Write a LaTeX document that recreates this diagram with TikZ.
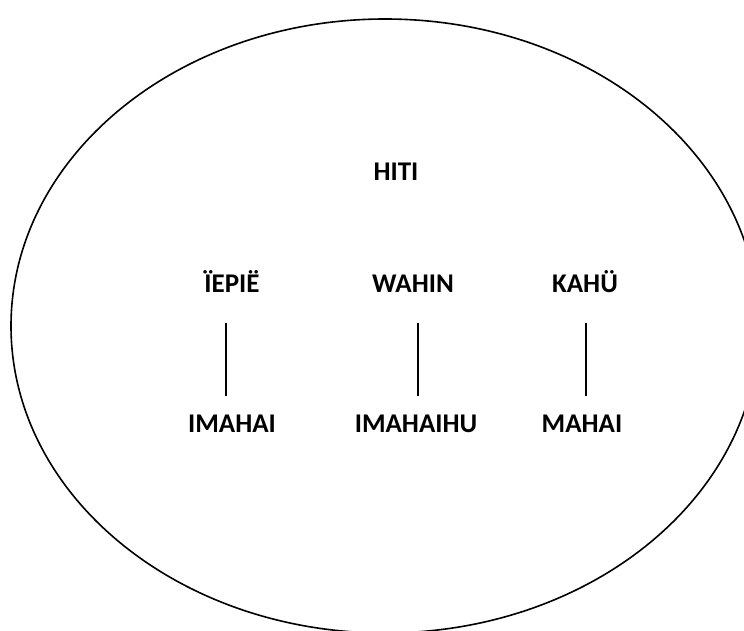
\documentclass[tikz,border=0pt]{standalone}
\usepackage{fontspec}
\setmainfont{Carlito}
\begin{document}
\begin{tikzpicture}[x=1pt,y=-1pt,
  lbl/.style={font=\bfseries\fontsize{27}{32}\selectfont, inner sep=0pt, anchor=base},
  link/.style={line width=1.6pt}]
\useasboundingbox (0,0) rectangle (744,631);
\draw[line width=1.6pt] (385,326) ellipse [x radius=374, y radius=307];
\node[lbl] (hiti) at (396,181) {HITI};
\node[lbl] (a1) at (232,292) {ÏEPIË};
\node[lbl] (b1) at (413,292) {WAHIN};
\node[lbl] (c1) at (585,292) {KAHÜ};
\node[lbl] (a2) at (232,432) {IMAHAI};
\node[lbl] (b2) at (416,432) {IMAHAIHU};
\node[lbl] (c2) at (582,432) {MAHAI};
\coordinate (a1b) at (226,323); \coordinate (a2t) at (226,396);
\coordinate (b1b) at (418,323); \coordinate (b2t) at (418,396);
\coordinate (c1b) at (586,323); \coordinate (c2t) at (586,396);
\draw[link] (a1b) -- (a2t);
\draw[link] (b1b) -- (b2t);
\draw[link] (c1b) -- (c2t);
\end{tikzpicture}
\end{document}
